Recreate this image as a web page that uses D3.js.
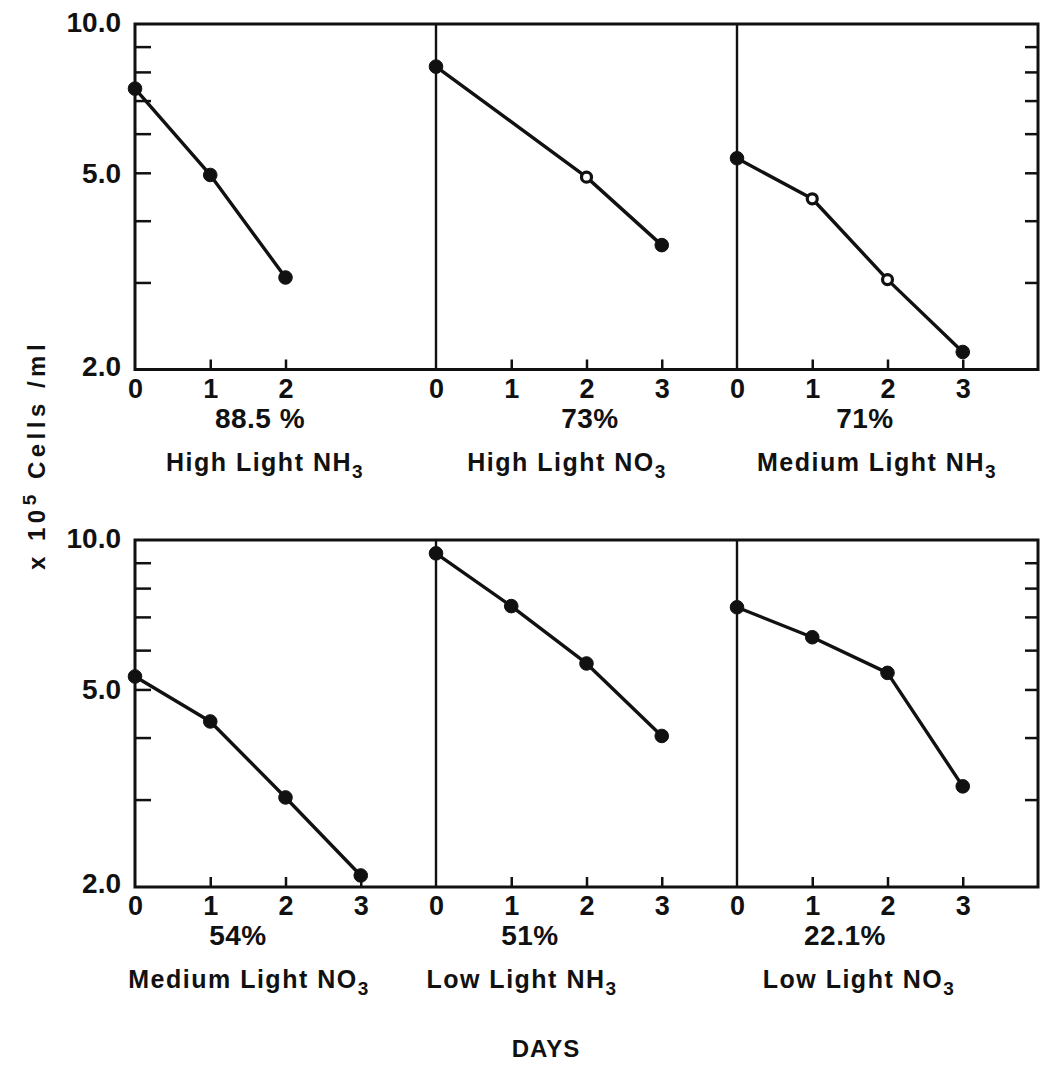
<!DOCTYPE html>
<html>
<head>
<meta charset="utf-8">
<script src="https://cdn.jsdelivr.net/npm/d3@7"></script>
<style>
  html, body { margin: 0; padding: 0; background: #fff; }
  svg text { font-family: "Liberation Sans", Arial, sans-serif; font-weight: bold; fill: #111; }
</style>
</head>
<body>
<svg id="chart" width="1042" height="1084"></svg>
<script>
// ---- data ----
const percents = ["88.5 %", "73%", "71%", "54%", "51%", "22.1%"];
const lightLevels = ["High Light", "High Light", "Medium Light", "Medium Light", "Low Light", "Low Light"];
const nitrogen = ["NH", "NO", "NH", "NO", "NH", "NO"];
const days = [[0, 1, 2], [0, 2, 3], [0, 1, 2, 3], [0, 1, 2, 3], [0, 1, 2, 3], [0, 1, 2, 3]];
const cells = [
  [7.4, 4.95, 3.07],
  [8.2, 4.9, 3.57],
  [5.35, 4.43, 3.04, 2.17],
  [5.31, 4.31, 3.03, 2.11],
  [9.4, 7.36, 5.64, 4.03],
  [7.32, 6.37, 5.40, 3.19]
];
const hollow = [
  [false, false, false],
  [false, true, false],
  [false, true, true, false],
  [false, false, false, false],
  [false, false, false, false],
  [false, false, false, false]
];
const dayTicks = [[0, 1, 2], [0, 1, 2, 3], [0, 1, 2, 3], [0, 1, 2, 3], [0, 1, 2, 3], [0, 1, 2, 3]];
const yMinorTicks = [3, 4, 5, 6, 7, 8, 9];
const yLabelTicks = [2, 5, 10];
const xDomain = [0, 4];
const yDomain = [2, 10];

// ---- layout ----
const svg = d3.select("#chart");
const left = 135, right = 1038;
const rows = [{ top: 24, bottom: 369.5 }, { top: 540, bottom: 887 }];
const panelW = (right - left) / 3;
const labelX = [265, 567, 877, 249, 522, 859];
const pctX = [260, 590, 865, 238, 530, 845];
const FONT = '"Liberation Sans", Arial, sans-serif';

rows.forEach((r, ri) => {
  const y = d3.scaleLog().domain(yDomain).range([r.bottom, r.top]);
  const g = svg.append("g");

  g.append("g").attr("transform", `translate(${left},0)`)
    .call(d3.axisLeft(y).tickValues(yMinorTicks).tickSize(-16).tickFormat(""))
    .call(s => s.select(".domain").remove())
    .selectAll("line").attr("stroke", "#111").attr("stroke-width", 2.5);
  g.append("g").attr("transform", `translate(${right},0)`)
    .call(d3.axisRight(y).tickValues(yMinorTicks).tickSize(-13).tickFormat(""))
    .call(s => s.select(".domain").remove())
    .selectAll("line").attr("stroke", "#111").attr("stroke-width", 2.5);
  const yl = g.append("g").attr("transform", `translate(${left},0)`)
    .call(d3.axisLeft(y).tickValues(yLabelTicks).tickSize(0).tickPadding(14).tickFormat(d3.format(".1f")));
  yl.select(".domain").remove();
  yl.selectAll("text").attr("font-size", 28).attr("fill", "#111")
    .style("font-family", FONT).style("font-weight", "bold")
    .attr("dy", d => d === 2 ? "0.2em" : (d === 10 ? "0.25em" : "0.34em"));

  g.append("rect").attr("x", left).attr("y", r.top).attr("width", right - left).attr("height", r.bottom - r.top)
    .attr("fill", "none").attr("stroke", "#111").attr("stroke-width", 3);

  for (let pi = 0; pi < 3; pi++) {
    const idx = ri * 3 + pi;
    const x = d3.scaleLinear().domain(xDomain).range([left + pi * panelW, left + (pi + 1) * panelW]);
    if (pi > 0) {
      g.append("line").attr("x1", x(0)).attr("x2", x(0)).attr("y1", r.top).attr("y2", r.bottom)
        .attr("stroke", "#111").attr("stroke-width", 2.4);
    }
    g.append("g").attr("transform", `translate(0,${r.bottom})`)
      .call(d3.axisBottom(x).tickValues(dayTicks[idx].filter(d => d > 0)).tickSize(-10).tickFormat(""))
      .call(s => s.select(".domain").remove())
      .selectAll("line").attr("stroke", "#111").attr("stroke-width", 2.5);
    const xl = g.append("g").attr("transform", `translate(0,${r.bottom})`)
      .call(d3.axisBottom(x).tickValues(dayTicks[idx]).tickSize(0).tickPadding(9).tickFormat(d3.format("d")));
    xl.select(".domain").remove();
    xl.selectAll("text").attr("font-size", 27).attr("fill", "#111")
      .style("font-family", FONT).style("font-weight", "bold");

    const pts = days[idx].map((d, k) => ({ d, v: cells[idx][k], h: hollow[idx][k] }));
    g.append("path").datum(pts)
      .attr("d", d3.line().x(p => x(p.d)).y(p => y(p.v)))
      .attr("fill", "none").attr("stroke", "#111").attr("stroke-width", 3.4).attr("stroke-linejoin", "round");
    g.selectAll(null).data(pts).enter().append("circle")
      .attr("cx", p => x(p.d)).attr("cy", p => y(p.v))
      .attr("r", p => p.h ? 5 : 6.8)
      .attr("fill", p => p.h ? "#fff" : "#111")
      .attr("stroke", "#111").attr("stroke-width", p => p.h ? 3.2 : 1);

    svg.append("text").attr("x", pctX[idx]).attr("y", r.bottom + 58)
      .attr("text-anchor", "middle").attr("font-size", 28).style("letter-spacing", "0.5px")
      .text(percents[idx]);
    const t = svg.append("text").attr("x", labelX[idx]).attr("y", r.bottom + 101)
      .attr("text-anchor", "middle").attr("font-size", 25).style("letter-spacing", "1.5px");
    t.append("tspan").text(lightLevels[idx] + " " + nitrogen[idx]);
    t.append("tspan").attr("dy", 7).attr("font-size", 19).text("3");
  }
});

// y axis title
const yt = svg.append("text").attr("transform", "translate(45,455) rotate(-90)")
  .attr("text-anchor", "middle").attr("font-size", 24).style("letter-spacing", "4.5px");
yt.append("tspan").text("x 10");
yt.append("tspan").attr("dy", -9).attr("font-size", 19).text("5");
yt.append("tspan").attr("dy", 9).text(" Cells /ml");

// x axis title
svg.append("text").attr("x", 546).attr("y", 1057).attr("text-anchor", "middle")
  .attr("font-size", 24).style("letter-spacing", "1px").text("DAYS");
</script>
</body>
</html>
